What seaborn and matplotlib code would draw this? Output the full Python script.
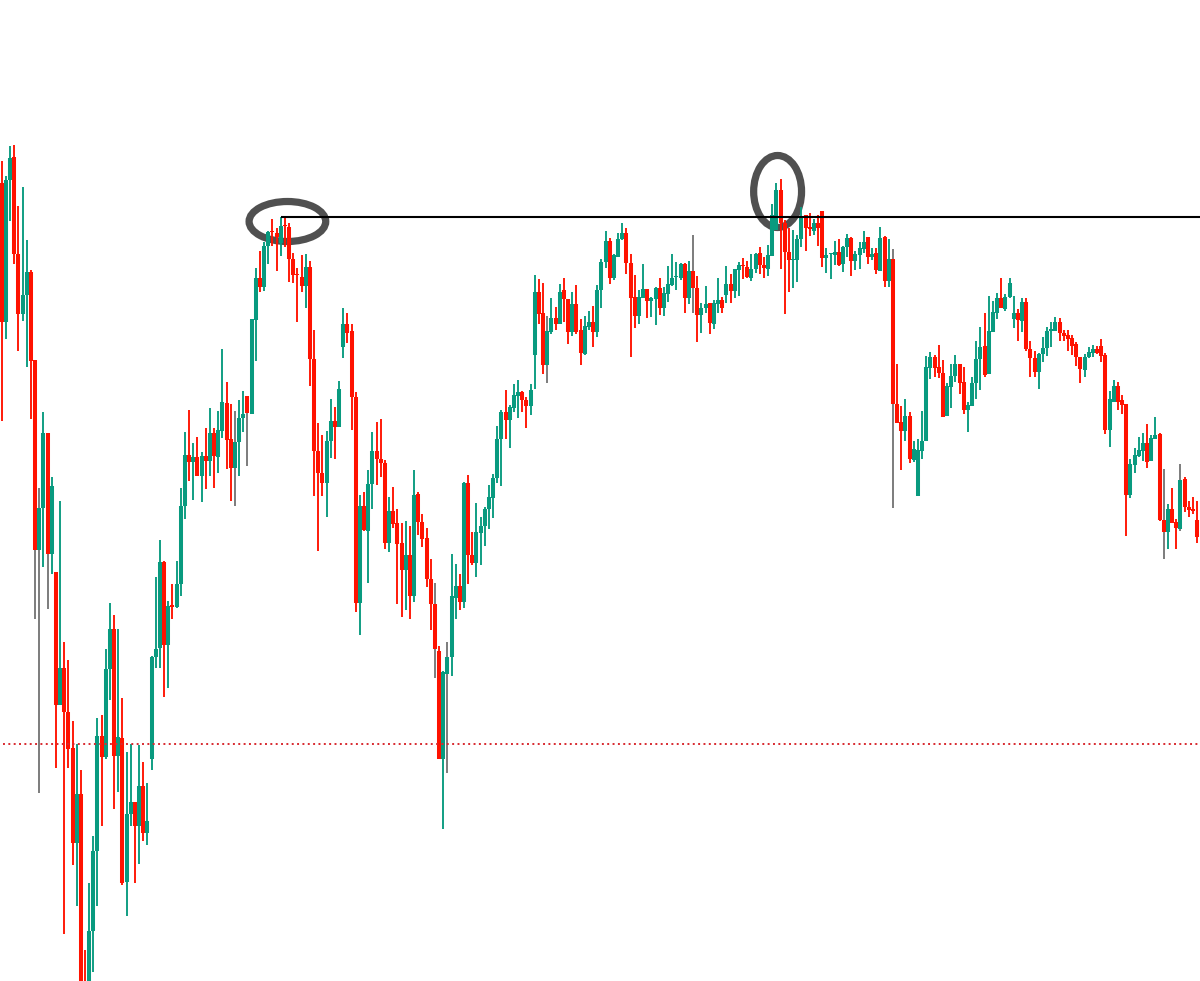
import matplotlib
matplotlib.use("Agg")
import pandas as pd
import matplotlib.pyplot as plt
import seaborn as sns
from matplotlib.patches import Ellipse

highs = [
    820,805,835,836,775,794,741,711,621,493, 569,548,504,409,480,339,321,260,237,211,
    31,98,145,263,266,332,378,366,352,283, 229,237,179,236,219,198,325,404,441,420,
    380,397,420,493,549,571,538,544,529,553, 573,553,570,632,599,577,570,581,590,585,
    662,713,730,739,750,762,753,764,763,758, 728,713,726,727,720,651,558,546,550,582,
    574,600,673,668,657,589,486,489,511,549, 559,562,521,484,494,472,458,460,455,511,
    489,467,453,422,398,335,310,339,427,417, 407,499,506,449,478,464,474,496,507,555,
    571,591,576,597,601,590,584,597,706,702, 698,665,683,674,697,703,682,689,696,662,
    665,670,675,696,722,750,743,727,748,758, 753,727,706,691,717,692,684,694,703,694,
    715,727,719,718,718,720,746,705,678,695, 678,681,703,684,715,707,712,719,723,720,
    727,728,734,724,736,777,798,802,761,753, 751,746,774,766,768,762,766,770,733,728,
    740,742,735,747,744,730,739,750,744,733, 733,754,745,742,732,617,575,582,569,540,
    542,570,625,629,626,636,621,598,617,626, 617,614,579,604,640,654,668,685,680,688,
    703,687,703,685,672,683,683,640,630,628, 644,654,659,664,663,651,651,646,639,624,
    627,634,636,635,642,628,590,601,599,586, 577,522,533,544,548,557,546,564,548,512,
    477,493,462,517,504,480,484,480,467,
]
body_tops = [
    798,801,823,824,727,686,709,709,621,473, 548,548,495,409,313,313,269,233,187,187,
    -4,50,130,245,245,312,352,352,244,243, 167,179,179,195,195,160,324,332,419,419,
    375,376,397,475,526,526,524,524,525,525, 548,548,551,579,578,542,539,563,567,585,
    662,703,703,735,749,750,748,755,756,754, 722,707,704,714,714,622,530,508,540,560,
    560,592,657,657,650,584,475,475,497,530, 530,522,518,470,470,458,438,426,426,486,
    487,459,443,402,377,330,309,324,385,395, 395,498,498,426,449,455,472,484,503,542,
    569,569,574,586,589,589,581,591,689,689, 668,650,663,663,689,691,682,677,677,651,
    655,659,659,691,719,740,740,726,742,748, 748,718,684,684,692,692,683,693,693,688,
    697,703,705,717,717,710,710,693,673,677, 678,678,681,681,697,697,712,716,716,714,
    712,727,728,716,726,766,791,791,758,729, 722,742,765,766,754,758,758,770,726,728,
    729,729,734,743,743,727,733,739,744,727, 728,743,744,722,722,577,559,565,565,532,
    531,540,614,624,624,614,608,595,605,617, 617,599,576,598,622,634,635,650,669,683,
    683,684,698,668,668,679,679,632,623,627, 633,650,652,659,659,648,646,643,637,624,
    624,629,632,632,635,626,582,595,595,581, 577,517,526,531,538,538,543,546,547,461,
    472,472,459,501,502,474,472,461,461,
]
body_bottoms = [
    659,659,801,727,667,667,686,620,431,431, 473,427,427,276,276,269,232,138,138,-9,
    -9,-9,50,130,224,224,312,225,225,98, 99,167,155,155,148,148,222,324,333,336,
    336,374,374,397,475,519,519,505,505,520, 520,525,524,550,541,513,513,539,563,568,
    567,661,694,694,735,749,744,738,755,722, 706,706,695,695,622,530,508,498,498,540,
    554,554,634,648,584,378,378,451,450,497, 522,518,438,438,457,437,411,411,385,385,
    459,442,402,377,332,222,222,307,324,383, 379,379,426,418,418,448,455,472,483,503,
    542,561,561,573,585,581,575,575,626,667, 616,616,649,657,657,682,649,649,649,628,
    627,654,649,649,691,719,703,703,724,742, 718,683,665,665,683,680,680,682,673,673,
    687,696,704,703,683,683,693,666,666,673, 658,657,677,673,686,690,690,711,715,704,
    703,712,716,713,712,725,751,758,729,721, 721,721,742,753,752,750,753,723,723,727,
    726,716,717,734,720,720,726,732,724,724, 711,710,700,700,577,558,550,550,522,521,
    485,530,540,613,613,608,564,565,594,605, 598,571,571,575,598,622,606,607,649,668,
    673,672,684,662,661,660,632,623,609,609, 627,633,650,650,648,645,642,635,624,612,
    611,624,628,628,625,551,551,579,579,576, 486,486,516,525,530,519,520,542,461,449,
    449,458,453,452,474,471,470,444,444,
]
lows = [
    560,642,760,717,630,660,614,562,362,188, 414,372,407,213,276,47,213,116,75,-14,
    -14,-14,9,75,155,222,281,172,189,96, 65,155,98,117,140,136,211,313,313,284,
    293,362,373,385,462,500,481,505,479,492, 505,493,508,543,512,480,475,505,549,515,
    567,620,689,690,717,735,710,725,734,699, 698,659,689,673,595,485,430,485,464,523,
    522,554,623,638,551,369,346,450,398,472, 496,504,432,429,453,377,364,371,362,379,
    446,434,394,351,303,222,152,208,305,362, 371,373,397,416,404,416,435,452,463,498,
    495,542,533,569,563,569,553,566,592,657, 607,598,647,651,657,659,637,645,647,616,
    626,651,634,644,673,713,697,701,724,741, 707,624,653,657,683,663,664,656,666,665,
    679,695,691,701,668,677,668,639,648,668, 647,652,668,668,678,678,683,685,702,703,
    700,708,707,703,705,725,751,712,667,689, 693,699,734,730,745,746,735,714,708,702,
    716,715,709,724,705,711,712,728,717,721, 707,710,694,694,473,558,511,540,518,519,
    485,522,540,602,604,603,564,565,573,599, 587,567,549,575,582,591,604,607,649,662,
    673,670,683,653,640,649,630,604,604,592, 619,625,634,650,640,640,630,626,615,598,
    604,623,624,627,619,547,534,579,571,567, 445,483,508,524,520,513,520,542,460,422,
    432,458,432,450,469,464,467,438,436,
]
sides = list(
    "duudduuddu" "udududddud" "duuuduudud" "uududuuuud" "uduuududud"
    "uduudduuud" "uuduuddudd" "dddudddduu" "duuddduduu" "dddudddudu"
    "dddddduuuu" "dudduuuuuu" "uduuudduud" "duududdudd" "uuduuuduuu"
    "ddduuduudu" "uuuududduu" "duududuudd" "uudduuuddd" "uuuddudduu"
    "uduuduuudu" "dududddudu" "uuuuddduuu" "dduuuuduuu" "duuududddu"
    "uuuudddddd" "uuuddduudd" "duuuuduudd" "uddudddd" "u"
)
# these wicks come out grey in the original
grey_wicks = [8, 9, 11, 56, 59, 104, 107, 131, 166, 214, 279, 283]
resistance = 764.5
support = 237.5

candles = pd.DataFrame({
    "candle": range(len(highs)), "side": sides, "high": highs,
    "top": body_tops, "bottom": body_bottoms, "low": lows,
})
wicks = candles.melt(id_vars=["candle", "side"], value_vars=["high", "low"], value_name="price")
wicks.loc[wicks["candle"].isin(grey_wicks), "side"] = "g"
bodies = candles.melt(id_vars=["candle", "side"], value_vars=["top", "bottom"], value_name="price")

colors = {"u": "#089a7f", "d": "#ff1200", "g": "#777777"}

sns.set_style("white")
fig = plt.figure(figsize=(12, 9.81), dpi=100)
ax = fig.add_axes([0, 0, 1, 1])

for part, width in [(wicks, 1.35), (bodies, 2.9)]:
    sns.lineplot(data=part, x="candle", y="price", hue="side", palette=colors, units="candle",
                 estimator=None, sort=False, legend=False, linewidth=width,
                 solid_capstyle="butt", ax=ax)

ax.plot([67, 288], [resistance, resistance], color="black", lw=1.5, solid_capstyle="butt")
ax.plot([0.3, 288], [support, support], color="#d82a30", lw=1.4, linestyle=(0, (1, 1.75)))

ax.add_patch(Ellipse((68.6, 759.5), 18.4, 40, fill=False, ec="#505050", lw=5.2))
ax.add_patch(Ellipse((186.3, 789.5), 11.5, 72, fill=False, ec="#505050", lw=5.2))

ax.set_xlim(-0.41, 287.72)
ax.set_ylim(0, 981)
ax.axis("off")
fig.savefig("out.png", dpi=100)
